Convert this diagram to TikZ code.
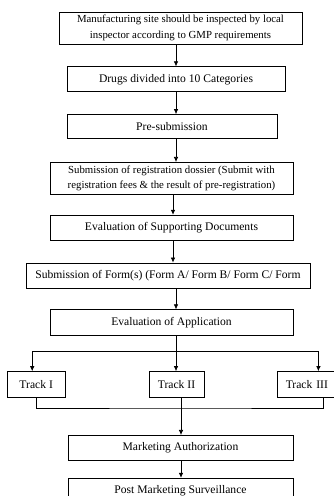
\documentclass[tikz,border=0pt]{standalone}
\usepackage{fontspec}
\setmainfont{Liberation Serif}
\usetikzlibrary{arrows.meta}
\usetikzlibrary{positioning}
\tikzset {
  % box of the flow chart
  stage/.style = {
    draw = black,
    line width = 0.8pt,
    rectangle,
    inner sep = 0pt,
    align = center,
    font = \fontsize{11.6}{14}\selectfont
  },
  % box with two lines of text
  wide stage/.style = {
    stage,
    font = \fontsize{10.8}{15.5}\selectfont
  },
  % path style with an arrow at the end
  flow/.style = {
    draw = black,
    line width = 0.7pt,
    -{Latex[length=5pt, width=4.5pt]}
  },
  % path style with no arrows
  link/.style = {
    draw = black,
    line width = 0.7pt
  },
  node distance = 22pt
}

\begin{document}
\begin{tikzpicture}[x=1pt, y=1pt]
    \useasboundingbox (0,0) rectangle (334,496);
    \clip (0,0) rectangle (334,496);

    \node[wide stage, minimum width=243pt, minimum height=32pt] (site) at (180.5,468)
      {Manufacturing site should be inspected by local\\inspector according to GMP requirements};
    \node[stage, minimum width=218pt, minimum height=25pt] (categories)
      [below=22pt of site, xshift=-4.5pt] {Drugs divided into 10 Categories};
    \node[stage, minimum width=210pt, minimum height=24pt] (presub)
      [below=22pt of categories, xshift=-4pt] {Pre-submission};
    \node[wide stage, minimum width=243pt, minimum height=32pt] (dossier)
      [below=23pt of presub, xshift=-0.5pt]
      {Submission of registration dossier (Submit with\\registration fees \& the result of pre-registration)};
    \node[stage, minimum width=243pt, minimum height=25pt] (supporting)
      [below=20pt of dossier] {Evaluation of Supporting Documents};
    \node[stage, minimum width=284pt, minimum height=25pt] (forms)
      [below=22pt of supporting, xshift=-3.5pt]
      {Submission of Form(s) (Form A/ Form B/ Form C/ Form};
    \node[stage, minimum width=243pt, minimum height=26pt] (application)
      [below=21pt of forms, xshift=3.5pt] {Evaluation of Application};

    \node[stage, minimum width=55pt, minimum height=26pt] (track2)
      [below=35pt of application, xshift=5pt] {Track II};
    \node[stage, minimum width=58pt, minimum height=26pt] (track1)
      [left=83pt of track2] {Track I};
    \node[stage, minimum width=68pt, minimum height=26pt, text width=60pt, align=left]
      (track3) [right=73pt of track2] {\hspace*{4pt}Track III};

    \node[stage, minimum width=225pt, minimum height=25pt] (authorization)
      [below=37pt of track2, xshift=4pt] {Marketing Authorization};
    \node[stage, minimum width=225pt, minimum height=26pt] (surveillance)
      [below=17pt of authorization] {Post Marketing Surveillance};

    \coordinate (spine) at (176,0);
    \coordinate (split) at (176,145);
    \coordinate (join) at (181,88);

    \draw[flow] (site.south -| spine) -- (categories.north -| spine);
    \draw[flow] (categories.south -| spine) -- (presub.north -| spine);
    \draw[flow] (presub.south -| spine) -- (dossier.north -| spine);
    \draw[flow] ([xshift=-3pt]dossier.south -| spine) -- ([xshift=-3pt]supporting.north -| spine);
    \draw[flow] ([xshift=-3pt]supporting.south -| spine) -- ([xshift=-3pt]forms.north -| spine);
    \draw[flow] (forms.south -| spine) -- (application.north -| spine);

    \draw[link] (application.south -| spine) -- (split);
    \draw[flow] (split) -| ([xshift=-4pt]track1.north);
    \draw[flow] (split) -- (track2.north -| split);
    \draw[flow] (split) -| ([xshift=41pt]track3.north west);
    \draw[link] (track1.south) |- (join) -| ([xshift=46pt]track3.south west);
    \draw[link] (track2.south -| join) -- (join);
    \draw[flow] (join) -- (authorization.north -| join);
    \draw[flow] (authorization.south -| join) -- (surveillance.north -| join);
  \end{tikzpicture}
\end{document}
